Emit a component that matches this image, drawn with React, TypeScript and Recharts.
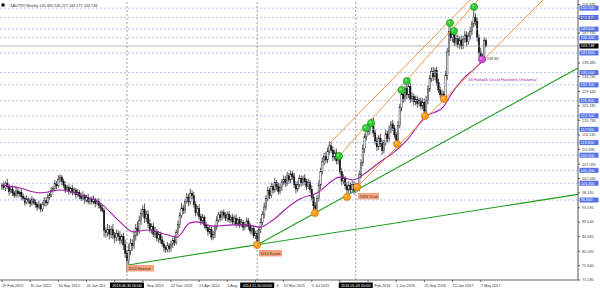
import React from 'react';
import { ComposedChart, Bar, Line, XAxis, YAxis, ReferenceLine, ReferenceDot } from 'recharts';

// ---------- DATA ----------
const firstOpen = 100.0;
// weekly closes, week 0 = 19 Feb 2012
const closes = [
  100.5, 99.8, 101.2, 100.1, 98.6, 99.4, 98.2, 97.5, 98.8, 97.9,
  98.4, 97.1, 96.5, 95.2, 96.3, 95.8, 94.9, 96.1, 95.3, 94.6,
  93.8, 94.5, 93.2, 94.7, 95.9, 95.1, 96.8, 97.6, 98.9, 99.5,
  101.2, 100.4, 102.3, 103.1, 101.8, 100.6, 99.2, 99.9, 98.7, 99.5,
  98.3, 99.1, 97.6, 98.4, 97.2, 96.5, 97.4, 95.9, 96.8, 95.6,
  96.2, 95.4, 96.1, 94.9, 95.6, 94.3, 93.5, 92.8, 86.6, 85.9,
  86.8, 85.4, 86.9, 85.2, 84.3, 85.6, 84.8, 83.5, 84.7, 82.1,
  79.5, 77.2, 80.4, 82.6, 81.9, 84.8, 87.3, 86.5, 89.6, 91.8,
  93.1, 90.4, 91.6, 88.7, 86.9, 87.8, 85.4, 86.2, 84.1, 85.3,
  83.6, 82.4, 81.2, 80.6, 81.8, 80.9, 82.3, 83.5, 82.8, 85.9,
  88.4, 91.2, 93.5, 92.8, 95.6, 96.9, 95.4, 98.1, 97.3, 94.6,
  92.1, 93.4, 90.8, 89.5, 90.6, 88.2, 87.4, 86.1, 86.9, 84.5,
  85.3, 87.6, 89.8, 91.4, 90.5, 92.1, 91.3, 90.4, 91.6, 89.8,
  90.7, 89.2, 90.4, 88.6, 89.9, 88.3, 89.1, 87.6, 88.4, 89.5,
  87.8, 86.4, 87.2, 84.9, 85.6, 83.4, 86.8, 89.1, 91.5, 93.8,
  96.4, 98.9, 97.5, 100.2, 99.1, 101.4, 100.3, 98.7, 99.9, 101.6,
  102.4, 101.1, 103.5, 102.2, 104.1, 103.2, 100.8, 99.4, 100.9, 102.6,
  101.3, 102.8, 101.7, 100.2, 101.5, 99.3, 96.8, 94.2, 93.4, 96.5,
  100.6, 104.8, 107.9, 109.6, 108.4, 111.2, 112.8, 111.5, 109.3, 110.6,
  108.2, 109.4, 104.8, 101.9, 102.6, 100.4, 99.1, 100.5, 99.3, 100.8,
  98.9, 100.2, 99.6, 103.8, 107.5, 111.9, 115.6, 118.4, 117.2, 119.5,
  120.1, 116.8, 114.3, 112.5, 115.2, 113.6, 111.4, 113.8, 116.5, 115.1,
  117.9, 119.6, 118.3, 116.2, 114.6, 119.1, 124.6, 128.9, 127.4, 130.6,
  128.6, 131.2, 127.3, 128.1, 126.4, 127.2, 125.9, 126.8, 125.1, 126.3,
  123.6, 126.9, 130.4, 133.7, 135.8, 134.2, 136.1, 132.5, 130.1, 128.6,
  128.9, 127.8, 134.6, 141.9, 148.2, 146.3, 147.4, 144.9, 146.1, 144.2,
  145.6, 143.8, 145.9, 147.2, 145.1, 146.8, 148.3, 150.6, 152.7, 151.4,
  146.3, 141.8, 140.2, 139.9, 145.46, 143.748,
];
const upperWicks = [
  0.8, 1.2, 0.6, 1.4, 0.9, 0.7, 1.1, 0.5, 1.3, 0.8,
  0.6, 1.0, 0.9, 0.7, 1.2, 0.5, 0.8, 1.1, 0.6, 0.9,
  0.7, 1.3, 0.6, 0.8, 1.0, 0.9, 1.2, 0.7, 1.1, 0.8,
  1.0, 0.7, 1.4, 0.9, 0.6, 0.8, 1.1, 0.7, 0.9, 0.6,
  1.2, 0.8, 0.6, 1.0, 0.7, 0.9, 1.3, 0.5, 0.8, 1.1,
  0.7, 0.9, 1.2, 0.6, 0.8, 1.0, 0.7, 1.1, 0.6, 0.9,
  1.8, 1.4, 1.1, 1.6, 0.9, 1.3, 1.0, 1.5, 0.8, 1.2,
  1.6, 1.1, 1.9, 1.4, 1.2, 1.7, 1.3, 2.1, 1.5, 1.4,
  1.2, 1.8, 1.0, 1.3, 1.5, 0.9, 1.2, 1.4, 0.8, 1.1,
  0.9, 1.3, 1.0, 0.7, 1.2, 0.8, 1.1, 0.9, 1.4, 1.0,
  1.2, 0.9, 1.5, 1.1, 0.8, 1.3, 1.0, 1.4, 0.9, 1.2,
  1.0, 0.8, 1.3, 0.9, 1.1, 0.7, 1.0, 0.8, 1.2, 0.9,
  1.1, 0.8, 1.2, 0.9, 1.3, 0.7, 1.0, 0.9, 0.8, 1.1,
  0.7, 1.0, 0.8, 1.2, 0.6, 0.9, 1.1, 0.7, 0.8, 1.0,
  0.9, 1.1, 0.7, 1.0, 0.8, 1.2, 0.9, 1.3, 1.0, 1.4,
  1.1, 1.3, 0.9, 1.2, 1.0, 1.4, 0.8, 1.1, 1.3, 0.9,
  1.2, 1.0, 1.3, 0.9, 1.1, 0.8, 1.2, 1.0, 0.9, 1.1,
  1.0, 0.8, 1.2, 0.9, 1.1, 0.7, 1.3, 1.0, 1.2, 0.9,
  1.5, 1.2, 1.4, 1.0, 1.3, 1.1, 1.4, 1.1, 1.2, 1.0,
  1.3, 0.9, 1.2, 1.0, 1.4, 0.8, 1.1, 1.3, 0.9, 1.2,
  1.0, 1.2, 0.9, 1.4, 1.1, 1.3, 1.0, 0.6, 1.2, 0.9,
  1.1, 1.3, 1.0, 1.2, 0.9, 1.4, 1.1, 0.8, 1.2, 1.0,
  1.3, 0.9, 1.2, 1.0, 0.8, 1.4, 1.1, 1.3, 1.5, 0.9,
  1.2, 1.8, 1.0, 1.3, 0.9, 1.1, 1.2, 0.8, 1.0, 1.3,
  1.1, 1.4, 1.2, 1.0, 1.3, 1.5, 0.9, 1.2, 1.1, 1.0,
  1.3, 0.9, 1.4, 1.2, 2.8, 1.3, 1.2, 1.4, 1.1, 1.3,
  1.2, 1.4, 1.0, 1.3, 1.1, 1.2, 1.4, 1.0, 3.0, 1.2,
  1.3, 1.0, 1.4, 1.2, 1.1, 0.761,
];
const lowerWicks = [
  0.9, 0.7, 1.1, 0.8, 1.2, 0.6, 1.0, 0.8, 0.7, 1.1,
  0.8, 1.2, 0.7, 1.0, 0.6, 0.9, 1.1, 0.7, 0.8, 1.0,
  1.1, 0.7, 1.0, 0.8, 0.6, 1.2, 0.7, 0.9, 0.8, 0.6,
  0.8, 1.1, 0.7, 0.9, 1.2, 0.8, 1.0, 0.6, 1.1, 0.7,
  0.9, 0.7, 1.2, 0.6, 1.0, 0.8, 0.7, 1.1, 0.6, 0.9,
  1.0, 0.8, 0.7, 1.2, 0.6, 0.9, 1.1, 0.7, 2.0, 1.6,
  1.2, 1.6, 1.2, 1.4, 1.8, 1.1, 1.5, 1.3, 1.0, 1.6,
  1.4, 3.7, 1.2, 1.5, 1.8, 1.0, 1.4, 1.6, 1.1, 1.3,
  1.0, 1.5, 1.2, 1.4, 1.1, 1.3, 0.9, 1.2, 1.0, 1.4,
  1.1, 0.9, 1.3, 1.0, 0.8, 1.2, 0.9, 1.1, 1.0, 0.7,
  0.9, 1.1, 0.8, 1.2, 1.0, 0.7, 1.3, 0.9, 1.1, 1.0,
  1.2, 0.9, 1.0, 1.3, 0.8, 1.1, 0.9, 1.2, 0.7, 1.0,
  0.8, 1.1, 0.9, 0.7, 1.2, 0.8, 1.0, 0.9, 1.1, 0.8,
  1.0, 0.7, 0.9, 1.1, 0.8, 1.0, 0.7, 1.2, 0.9, 0.8,
  1.1, 0.9, 1.2, 0.8, 1.0, 1.4, 0.8, 1.0, 0.9, 1.2,
  1.0, 0.8, 1.2, 0.9, 1.1, 0.8, 1.3, 1.0, 0.9, 1.1,
  0.9, 1.1, 0.8, 1.2, 1.0, 0.9, 1.1, 1.3, 0.8, 1.0,
  1.1, 0.9, 1.0, 1.2, 0.8, 1.1, 1.0, 1.4, 1.8, 1.2,
  1.0, 1.3, 0.9, 1.2, 1.1, 1.0, 1.2, 0.9, 1.3, 1.0,
  1.1, 1.2, 0.9, 1.3, 1.0, 1.2, 2.1, 1.0, 1.1, 0.9,
  1.2, 0.8, 1.0, 0.9, 1.1, 1.0, 1.3, 1.1, 1.2, 1.0,
  0.9, 1.2, 1.1, 1.3, 1.0, 1.2, 1.4, 1.0, 0.9, 1.2,
  1.0, 1.2, 0.9, 1.1, 1.2, 1.0, 0.8, 1.1, 1.3, 1.0,
  1.4, 1.0, 1.2, 0.9, 1.1, 1.0, 1.3, 0.9, 1.1, 1.0,
  1.6, 1.0, 1.2, 0.9, 1.1, 1.3, 1.0, 1.2, 0.9, 1.1,
  1.0, 0.6, 1.1, 1.3, 1.2, 1.0, 1.4, 1.1, 1.2, 1.0,
  1.3, 1.1, 1.0, 1.2, 1.4, 0.9, 1.1, 1.2, 1.0, 1.3,
  1.2, 1.4, 1.1, 1.1, 1.0, 0.477,
];

// 34-week EMA, sampled (week, value)
const emaWeeks = [0, 10.2, 21.6, 33, 44.3, 55.7, 67, 74.4, 82.4, 93.75, 99.4, 106.8, 110.8, 119.9, 131.25, 139.2, 146.6, 154, 161.9, 169.3, 179, 192, 199.4, 207.4, 214.8, 222.2, 230.1, 240.3, 250.6, 255.7, 261.4, 267.6, 272.7, 275];
const emaValues = [100.7, 99.7, 98.2, 99.1, 97.6, 95.1, 89.2, 86.1, 86.7, 85.2, 84.5, 88.9, 89.2, 87.9, 88.3, 88.3, 87.6, 89.8, 93.5, 96.3, 98.2, 103.1, 102.2, 104.7, 107.8, 110.6, 114.6, 121.7, 124.8, 129.2, 133.2, 136.3, 138.8, 139.6];

// x-axis tick labels
const xTickWeeks = [0, 16, 32, 48, 64, 80, 96, 112, 128, 144, 160, 176, 192, 208, 224, 240, 256, 272];
const xTickLabels = ['19 Feb 2012', '10 Jun 2012', '30 Sep 2012', '20 Jan 2013', '12 May 2013', '1 Sep 2013', '22 Dec 2013', '13 Apr 2014', '3 Aug 2014', '23 Nov 2014', '15 Mar 2015', '5 Jul 2015', '25 Oct 2015', '14 Feb 2016', '5 Jun 2016', '25 Sep 2016', '15 Jan 2017', '7 May 2017'];

// y-axis tick labels
const yTickValues = [71.185, 75.64, 80.095, 84.685, 89.14, 93.595, 98.185, 102.64, 107.095, 111.685, 116.14, 120.73, 125.185, 129.64, 134.23, 138.485, 147.785, 152.24, 156.635];

// horizontal price levels
const levelValues = [155.5, 152.6, 149.0, 146.3, 141.6, 135.5, 131.7, 126.8, 122.1, 117.9, 113.8, 109.9, 105.2, 101.2, 96.0];
const currentPrice = 143.748;

// vertical date markers
const vWeeks = [71, 145, 201];
const vLabels = ['2013.06.30 00:00', '2014.11.30 00:00', '2016.01.03 00:00'];

// trend lines [w1, p1, w2, p2]
const orangeLines = [
  [201.7, 100.0, 307.4, 158.02],
  [191.5, 109.65, 270.5, 158.02],
  [186.4, 113.68, 265.9, 158.02],
];
const greenLines = [
  [71.6, 75.85, 327.27, 97.74],
  [144.9, 82.05, 327.27, 136.94],
];

// touch markers
const greenWeeks = [191.5, 206.8, 209.7, 227, 230, 254.5, 256.8, 268.2];
const greenPrices = [109.65, 118.33, 119.88, 130.1, 132.9, 150.89, 148.41, 155.85];
const orangeWeeks = [144.9, 177.8, 196.0, 201.7, 224.5, 240.3, 251.1];
const orangePrices = [82.05, 91.97, 96.93, 100.04, 113.37, 122.05, 127.32];
const purpleWeek = 272.7;
const purplePrice = 139.65;

// annotations
const boxNotes = [
  { w: 71.0, p: 75.85, text: '2013 Haziran' },
  { w: 146.0, p: 80.5, text: '2014 Kasım' },
  { w: 202.3, p: 98.18, text: '2016 Ocak' },
];
const headerText = 'XAUTRY,Weekly  145.460 146.221 143.271 143.748';

// ---------- CHART ----------
const X_MIN = -1.136;
const X_MAX = 327.27;
const Y_MIN = 71.19;
const Y_MAX = 158.02;
const PLOT_W = 578;
const FONT = 'Liberation Sans, Arial, sans-serif';
const FS = 3.8;
const CHAR_W = 2.1;
const DATE_BOX_HALF = 17;

const weekToPx = (w: number) => ((w - X_MIN) / (X_MAX - X_MIN)) * PLOT_W;

const candles = closes.map((c, i) => {
  const o = i === 0 ? firstOpen : closes[i - 1];
  return {
    w: i,
    open: o,
    close: c,
    high: Math.max(o, c) + upperWicks[i],
    low: Math.min(o, c) - lowerWicks[i],
  };
});
const emaData = emaWeeks.map((w, i) => ({ w, v: emaValues[i] }));

const Candle = (props: any) => {
  const { x, y, width, height, payload } = props;
  if (!payload || x == null || y == null) return null;
  const { open, close, high, low } = payload;
  const top = Math.min(y, y + height);
  const h = Math.abs(height);
  const k = h / Math.max(high - low, 0.0001);
  const cx = x + width / 2;
  const yO = top + (high - open) * k;
  const yC = top + (high - close) * k;
  const bt = Math.min(yO, yC);
  const bh = Math.max(Math.abs(yO - yC), 0.6);
  const up = close >= open;
  return (
    <g>
      <line x1={cx} x2={cx} y1={top} y2={top + h} stroke="#111" strokeWidth={0.7} />
      <rect x={cx - 0.7} y={bt} width={1.4} height={bh} fill={up ? '#fff' : '#111'} stroke="#111" strokeWidth={0.45} />
    </g>
  );
};

// tick labels are partly covered by the black date boxes, as in MT4:
// only the part that stays visible is written.
const XTick = (props: any) => {
  const { x, y, payload } = props;
  const idx = xTickWeeks.indexOf(payload.value);
  if (idx < 0) return null;
  let label = xTickLabels[idx];
  let startX = x;
  for (const vw of vWeeks) {
    const bx = weekToPx(vw);
    const left = bx - DATE_BOX_HALF - 0.5;
    const right = bx + DATE_BOX_HALF + 0.5;
    const end = startX + label.length * CHAR_W;
    if (startX >= left && startX < right) {
      const n = Math.ceil((right - startX) / CHAR_W);
      const rest = label.slice(n);
      const trimmed = rest.replace(/^\s+/, '');
      startX = startX + (n + rest.length - trimmed.length) * CHAR_W;
      label = trimmed;
    } else if (startX < left && end > left) {
      const keep = Math.floor((left - startX) / CHAR_W);
      label = label.slice(0, keep).replace(/\s+$/, '');
    }
  }
  if (!label) return null;
  return (
    <text x={startX} y={y} dy={3.2} fontSize={FS} fontFamily={FONT} fill="#333" textAnchor="start">
      {label}
    </text>
  );
};

const YTick = (props: any) => {
  const { x, y, payload } = props;
  return (
    <text x={x} y={y} dy={1.35} fontSize={FS} fontFamily={FONT} fill="#444" textAnchor="start">
      {Number(payload.value).toFixed(3)}
    </text>
  );
};

const levelTag = (text: string, fill: string) => (props: any) => {
  const vb = props.viewBox;
  if (!vb) return null;
  const x = vb.x + vb.width + 1.5;
  const y = vb.y;
  return (
    <g>
      <rect x={x} y={y - 2.5} width={19} height={5} fill={fill} />
      <text x={x + 1.2} y={y + 1.35} fontSize={FS} fontFamily={FONT} fill="#fff">{text}</text>
    </g>
  );
};

const dateTag = (text: string) => (props: any) => {
  const vb = props.viewBox;
  if (!vb) return null;
  const cx = vb.x;
  const y = vb.y + vb.height + 2.5;
  return (
    <g>
      <rect x={cx - DATE_BOX_HALF} y={y} width={DATE_BOX_HALF * 2} height={5.5} fill="#000" />
      <text x={cx} y={y + 4} fontSize={FS} fontFamily={FONT} fill="#fff" textAnchor="middle">{text}</text>
    </g>
  );
};

const markerShape = (fill: string, stroke: string) => (props: any) => {
  const { cx, cy } = props;
  if (cx == null || cy == null) return <g />;
  return (
    <g>
      <circle cx={cx} cy={cy} r={3.6} fill={fill} stroke={stroke} strokeWidth={0.6} />
      <circle cx={cx - 0.9} cy={cy - 0.9} r={1.3} fill="#fff" opacity={0.35} />
    </g>
  );
};

const noteBox = (text: string) => (props: any) => {
  const { cx, cy } = props;
  if (cx == null || cy == null) return <g />;
  const w = text.length * 2.05 + 2.5;
  return (
    <g>
      <rect x={cx} y={cy} width={w} height={6.5} fill="#f8a47c" />
      <text x={cx + 1.3} y={cy + 4.6} fontSize={FS} fontFamily={FONT} fill="#333">{text}</text>
    </g>
  );
};

const plainText = (text: string, color: string, size: number) => (props: any) => {
  const { cx, cy } = props;
  if (cx == null || cy == null) return <g />;
  return (
    <text x={cx} y={cy} dy={1.35} fontSize={size} fontFamily={FONT} fill={color}>{text}</text>
  );
};

export default function App() {
  return (
    <div style={{ position: 'fixed', left: 0, top: 0, width: 600, height: 292, background: '#fff' }}>
      <ComposedChart width={600} height={292} data={candles} margin={{ top: 0, right: 0, left: 0, bottom: 0 }}>
        <XAxis
          dataKey="w"
          type="number"
          domain={[X_MIN, X_MAX]}
          allowDataOverflow
          ticks={xTickWeeks}
          interval={0}
          tick={<XTick />}
          tickSize={2}
          tickLine={{ stroke: '#666' }}
          axisLine={{ stroke: '#666' }}
          height={12}
        />
        <YAxis
          orientation="right"
          type="number"
          domain={[Y_MIN, Y_MAX]}
          allowDataOverflow
          ticks={yTickValues}
          interval={0}
          tick={<YTick />}
          tickSize={2}
          tickLine={{ stroke: '#555' }}
          axisLine={{ stroke: '#555' }}
          width={22}
        />
        {levelValues.map((v) => (
          <ReferenceLine
            key={'lv' + v}
            y={v}
            stroke="#9fb3f2"
            strokeWidth={0.8}
            strokeDasharray="2 2"
            label={levelTag(v.toFixed(3), '#5573e6')}
          />
        ))}
        <ReferenceLine y={currentPrice} stroke="#9a9a9a" strokeWidth={0.7} label={levelTag(currentPrice.toFixed(3), '#000')} />
        {vWeeks.map((w, i) => (
          <ReferenceLine
            key={'vw' + w}
            x={w}
            stroke="#888"
            strokeWidth={0.8}
            strokeDasharray="2 2"
            label={dateTag(vLabels[i])}
          />
        ))}
        <Bar dataKey={(d: any) => [d.low, d.high]} shape={(p: any) => <Candle {...p} />} barSize={1} isAnimationActive={false} />
        <Line data={emaData} dataKey="v" type="monotone" stroke="#a21ca8" strokeWidth={1.1} dot={false} isAnimationActive={false} />
        {orangeLines.map((l, i) => (
          <ReferenceLine
            key={'ol' + i}
            segment={[{ x: l[0], y: l[1] }, { x: l[2], y: l[3] }]}
            stroke="#f08a2c"
            strokeWidth={0.9}
            ifOverflow="visible"
          />
        ))}
        {greenLines.map((l, i) => (
          <ReferenceLine
            key={'gl' + i}
            segment={[{ x: l[0], y: l[1] }, { x: l[2], y: l[3] }]}
            stroke="#1f9e1f"
            strokeWidth={1.1}
            ifOverflow="visible"
          />
        ))}
        {greenWeeks.map((w, i) => (
          <ReferenceDot key={'gd' + i} x={w} y={greenPrices[i]} r={3.6} shape={markerShape('#2fcc2f', '#1e8f1e')} ifOverflow="visible" />
        ))}
        {orangeWeeks.map((w, i) => (
          <ReferenceDot key={'od' + i} x={w} y={orangePrices[i]} r={3.6} shape={markerShape('#ff9a14', '#d0700a')} ifOverflow="visible" />
        ))}
        <ReferenceDot x={purpleWeek} y={purplePrice} r={3.6} shape={markerShape('#d048d6', '#9c1fa2')} ifOverflow="visible" />
        {boxNotes.map((n, i) => (
          <ReferenceDot key={'bn' + i} x={n.w} y={n.p} r={0} shape={noteBox(n.text)} ifOverflow="visible" />
        ))}
        <ReferenceDot x={275.6} y={139.9} r={0} shape={plainText('139.65', '#222', FS)} ifOverflow="visible" />
        <ReferenceDot x={264.8} y={133.2} r={0} shape={plainText('34 Haftalık Üssel Hareketli Ortalama!', '#a21ca8', 4.2)} ifOverflow="visible" />
      </ComposedChart>
      <svg width={200} height={10} style={{ position: 'absolute', left: 0, top: 0 }}>
        <rect x={1.5} y={3.5} width={3} height={3} fill="#000" />
        <text x={10} y={6.8} fontSize={FS} fontFamily={FONT} fill="#333">{headerText}</text>
      </svg>
    </div>
  );
}
